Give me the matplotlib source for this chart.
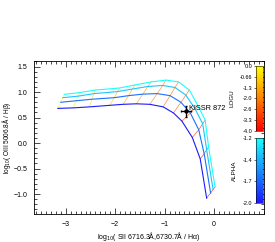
import numpy as np
import matplotlib.pyplot as plt
from matplotlib.colors import LinearSegmentedColormap, Normalize
from matplotlib.ticker import MultipleLocator
import matplotlib.cm as cm

plt.rcParams['font.family'] = ['Liberation Sans', 'DejaVu Sans']

# model grid: one row per alpha, one column per logU (0 .. -4)
logu = [0.0, -0.333, -0.667, -1.0, -1.333, -1.667, -2.0, -2.333, -2.667, -3.0, -3.333, -3.667, -4.0]
alpha = [-2.0, -1.7, -1.4, -1.2]

sii = [
    [-3.16, -2.85, -2.52, -2.11, -1.84, -1.57, -1.30, -1.03, -0.82, -0.65, -0.44, -0.28, -0.15],
    [-3.10, -2.79, -2.47, -2.02, -1.73, -1.44, -1.15, -0.89, -0.67, -0.48, -0.31, -0.20, -0.07],
    [-3.06, -2.75, -2.43, -1.95, -1.65, -1.34, -1.04, -0.79, -0.57, -0.39, -0.23, -0.15, -0.02],
    [-3.03, -2.72, -2.40, -1.91, -1.60, -1.27, -0.97, -0.72, -0.50, -0.33, -0.18, -0.11, 0.02],
]
oiii = [
    [0.68, 0.69, 0.71, 0.74, 0.76, 0.77, 0.76, 0.71, 0.59, 0.43, 0.11, -0.31, -1.08],
    [0.80, 0.83, 0.86, 0.89, 0.93, 0.96, 0.97, 0.93, 0.80, 0.59, 0.26, -0.21, -0.98],
    [0.89, 0.92, 0.97, 1.01, 1.06, 1.11, 1.13, 1.09, 0.94, 0.68, 0.38, -0.13, -0.91],
    [0.955, 0.99, 1.04, 1.08, 1.14, 1.20, 1.235, 1.20, 1.04, 0.74, 0.45, -0.08, -0.86],
]

# observed galaxy
obj_name = 'KISSR 872'
obj_x, obj_y = -0.57, 0.62
obj_xerr, obj_yerr = 0.10, 0.11

logu_ticklabels = ['0.0', '-0.66', '-1.3', '-2.0', '-2.6', '-3.3', '-4.0']
alpha_ticklabels = ['-1.2', '-1.4', '-1.7', '-2.0']

sii = np.array(sii)
oiii = np.array(oiii)

cmap_a = LinearSegmentedColormap.from_list('bc', [(0.1, 0.1, 1), (0.1, 1, 1)])
cmap_u = plt.get_cmap('autumn')
norm_a = Normalize(min(alpha), max(alpha))
norm_u = Normalize(min(logu), max(logu))

fig = plt.figure(figsize=(2.75, 2.42), dpi=100)
ax = fig.add_axes([0.124, 0.116, 0.836, 0.632])

# constant logU lines
for j, u in enumerate(logu):
    ax.plot(sii[:, j], oiii[:, j], color=cmap_u(norm_u(u)), lw=0.5, alpha=0.75)
# constant alpha lines
for i, a in enumerate(alpha):
    ax.plot(sii[i], oiii[i], color=cmap_a(norm_a(a)), lw=0.8)

ax.errorbar(obj_x, obj_y, xerr=obj_xerr, yerr=obj_yerr, fmt='o', color='black',
            ms=2.2, elinewidth=0.9, capsize=1.0)
ax.text(obj_x + 0.07, obj_y + 0.06, obj_name, fontsize=5.3, va='center', ha='left')

ax.set_xlim(-3.64, 1.01)
ax.set_ylim(-1.39, 1.61)
ax.xaxis.set_major_locator(MultipleLocator(1))
ax.xaxis.set_minor_locator(MultipleLocator(0.1))
ax.yaxis.set_major_locator(MultipleLocator(0.5))
ax.yaxis.set_minor_locator(MultipleLocator(0.1))
ax.set_xticks([-3, -2, -1, 0])
ax.tick_params(which='both', direction='in', top=True, right=True, labelsize=5, width=0.5)
ax.tick_params(which='major', length=4, pad=5)
ax.tick_params(which='minor', length=2)
for s in ax.spines.values():
    s.set_linewidth(0.6)
ax.set_xlabel('log$_{10}$( SII 6716.3Å,6730.7Å / Hα)', fontsize=5, va='center')
ax.set_ylabel('log$_{10}$( OIII 5006.8Å / Hβ)', fontsize=4.7, va='center')
ax.xaxis.set_label_coords(0.5, -0.15)
ax.yaxis.set_label_coords(-0.118, 0.5)

# colorbars
cax_u = fig.add_axes([0.931, 0.459, 0.025, 0.268])
cb_u = fig.colorbar(cm.ScalarMappable(norm=norm_u, cmap=cmap_u), cax=cax_u)
cb_u.set_ticks(np.linspace(0, -4, 7))
cb_u.set_ticklabels(logu_ticklabels)
cax_a = fig.add_axes([0.931, 0.161, 0.025, 0.268])
cb_a = fig.colorbar(cm.ScalarMappable(norm=norm_a, cmap=cmap_a), cax=cax_a)
cb_a.set_ticks(np.linspace(-1.2, -2.0, 4))
cb_a.set_ticklabels(alpha_ticklabels)
for cax, lab in [(cax_u, 'LOGU'), (cax_a, 'ALPHA')]:
    cax.yaxis.set_ticks_position('left')
    cax.tick_params(labelsize=4, length=1.5, width=0.4, pad=1)
    cax.set_ylabel(lab, fontsize=4.5, rotation=90)
    cax.yaxis.set_label_position('left')
    cax.yaxis.labelpad = 4
cb_u.outline.set_linewidth(0.4)
cb_a.outline.set_linewidth(0.4)

fig.savefig('out.png', dpi=100)
